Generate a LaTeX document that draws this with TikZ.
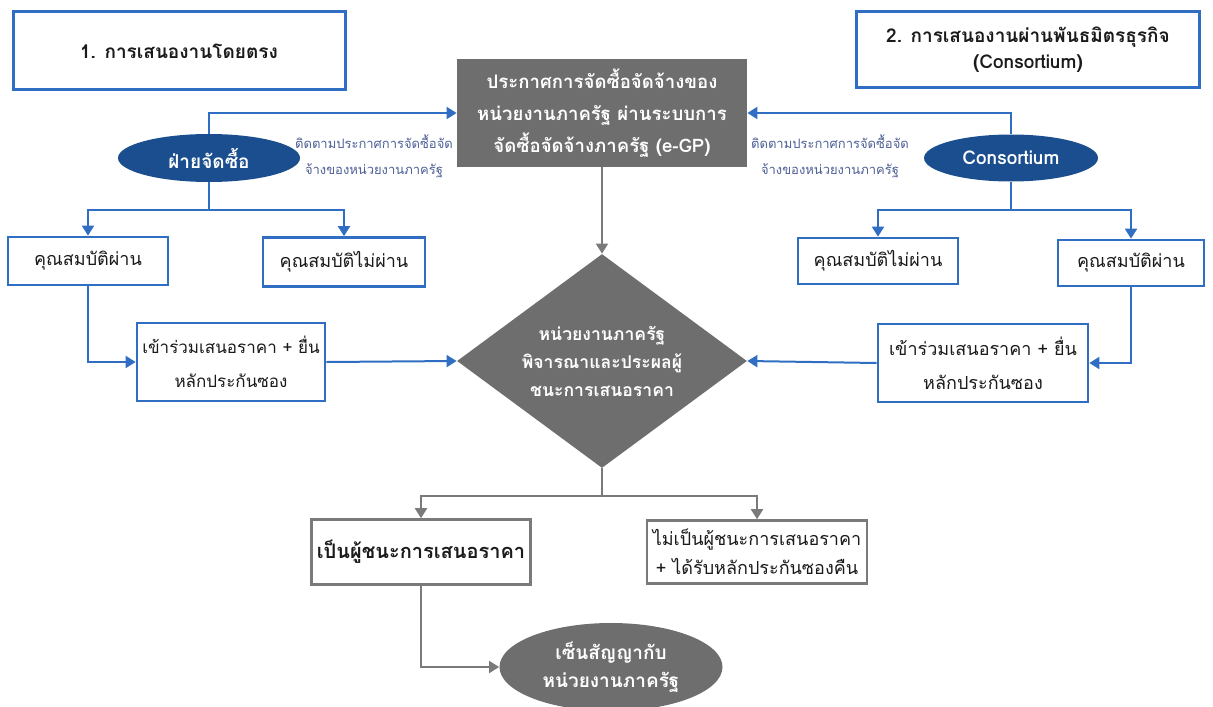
\documentclass[tikz,border=0pt]{standalone}
\usepackage{fontspec}
\setmainfont[Script=Thai]{Loma}
\usetikzlibrary{positioning, arrows.meta, shapes.geometric}
\definecolor{clrframe}{HTML}{2F6EC2}
\definecolor{clrparty}{HTML}{1B4E8E}
\definecolor{clrstate}{HTML}{6E6E6E}
\definecolor{clrgline}{HTML}{7A7A7A}
\definecolor{clrnote}{HTML}{4D5F95}
\definecolor{clrtext}{HTML}{1A1A1A}

\begin{document}
\begin{tikzpicture}[
    x=0.5pt, y=-0.5pt,
    every node/.style={font=\fontsize{9}{12}\selectfont, align=center, text=clrtext},
    title/.style={draw=clrframe, line width=1.5pt, fill=white, inner sep=0,
                  font=\fontsize{9.5}{13}\selectfont\bfseries},
    block/.style={draw=clrframe, line width=1.35pt, fill=white, inner sep=0,
                  font=\fontsize{9}{17}\selectfont},
    notice/.style={fill=clrstate, text=white, inner sep=0,
                   font=\fontsize{9.3}{16}\selectfont\bfseries},
    party/.style={ellipse, fill=clrparty, text=white, inner sep=0,
                  font=\fontsize{9.5}{12}\selectfont\bfseries},
    decide/.style={diamond, fill=clrstate, text=white, inner sep=0, aspect=1.355,
                   font=\fontsize{8.8}{14}\selectfont\bfseries},
    result/.style={draw=clrgline, line width=1.3pt, fill=white, inner sep=0,
                   font=\fontsize{9}{14.5}\selectfont},
    finish/.style={ellipse, fill=clrstate, text=white, inner sep=0,
                   font=\fontsize{9.5}{14}\selectfont\bfseries},
    label/.style={font=\fontsize{6.5}{13}\selectfont, text=clrnote},
    arrow/.style={-{Triangle[length=5pt, width=6pt]}, line width=1pt, color=clrframe},
    garrow/.style={-{Triangle[length=5pt, width=6pt]}, line width=1pt, color=clrgline},
]
\useasboundingbox (0,0) rectangle (1213,706);
\node[title, minimum width=166pt, minimum height=39pt] (n_1) at (179,51) {1. การเสนองานโดยตรง};
\node[title, minimum width=171.5pt, minimum height=38pt] (n_2) at (1028,50) {2. การเสนองานผ่านพันธมิตรธุรกิจ\\(Consortium)};
\node[notice, minimum width=145pt, minimum height=54pt] (n_3) at (602,113) {ประกาศการจัดซื้อจัดจ้างของ\\หน่วยงานภาครัฐ ผ่านระบบการ\\จัดซื้อจัดจ้างภาครัฐ (e-GP)};
\node[party, minimum width=91pt, minimum height=24pt] (n_4) at (209,158) {ฝ่ายจัดซื้อ};
\node[party, minimum width=87pt, minimum height=23.5pt] (n_5) at (1011,158) {Consortium};
\node[label] (n_6) at (374,156) {ติดตามประกาศการจัดซื้อจัด\\จ้างของหน่วยงานภาครัฐ};
\node[label] (n_7) at (830,156) {ติดตามประกาศการจัดซื้อจัด\\จ้างของหน่วยงานภาครัฐ};
\node[block, minimum width=80pt, minimum height=24pt] (n_8) at (88,261) {คุณสมบัติผ่าน};
\node[block, minimum width=81pt, minimum height=24.5pt] (n_9) at (344,262) {คุณสมบัติไม่ผ่าน};
\node[block, minimum width=80pt, minimum height=23pt] (n_10) at (878,261) {คุณสมบัติไม่ผ่าน};
\node[block, minimum width=73pt, minimum height=23pt] (n_11) at (1131,263) {คุณสมบัติผ่าน};
\node[block, minimum width=94pt, minimum height=39pt, font=\fontsize{8.5}{17}\selectfont] (n_12) at (231,362) {เข้าร่วมเสนอราคา + ยื่น\\หลักประกันซอง};
\node[block, minimum width=105pt, minimum height=39pt] (n_13) at (983,363) {เข้าร่วมเสนอราคา + ยื่น\\หลักประกันซอง};
\node[decide, minimum width=145pt, minimum height=107pt] (n_14) at (602,361) {หน่วยงานภาครัฐ\\พิจารณาและประผลผู้\\ชนะการเสนอราคา};
\node[result, minimum width=109.5pt, minimum height=32.5pt, font=\fontsize{10}{13}\selectfont\bfseries] (n_15) at (421,552) {เป็นผู้ชนะการเสนอราคา};
\node[result, minimum width=110pt, minimum height=31.5pt] (n_16) at (757,552) {ไม่เป็นผู้ชนะการเสนอราคา\\+ ได้รับหลักประกันซองคืน};
\node[finish, minimum width=111.5pt, minimum height=44pt] (n_17) at (611,667) {เซ็นสัญญากับ\\หน่วยงานภาครัฐ};
\draw[arrow] (n_4.north) |- (n_3.west);
\draw[arrow] (n_5.north) |- (n_3.east);
\draw[arrow] (n_4.south) -- ++(0,28) coordinate (j_1) -| (n_8.north);
\draw[arrow] (j_1) -| (n_9.north);
\draw[arrow] (n_5.south) -- ++(0,28) coordinate (j_2) -| (n_10.north);
\draw[arrow] (j_2) -| (n_11.north);
\draw[arrow] (n_8.south) |- (n_12.west);
\draw[arrow] (n_11.south) |- (n_13.east);
\draw[arrow] (n_12.east) -- (n_14.west);
\draw[arrow] (n_13.west) -- (n_14.east);
\draw[garrow] (n_3.south) -- (n_14.north);
\draw[garrow] (n_14.south) -- ++(0,28) coordinate (j_3) -| (n_15.north);
\draw[garrow] (j_3) -| (n_16.north);
\draw[garrow] (n_15.south) |- (n_17.west);
\end{tikzpicture}
\end{document}
